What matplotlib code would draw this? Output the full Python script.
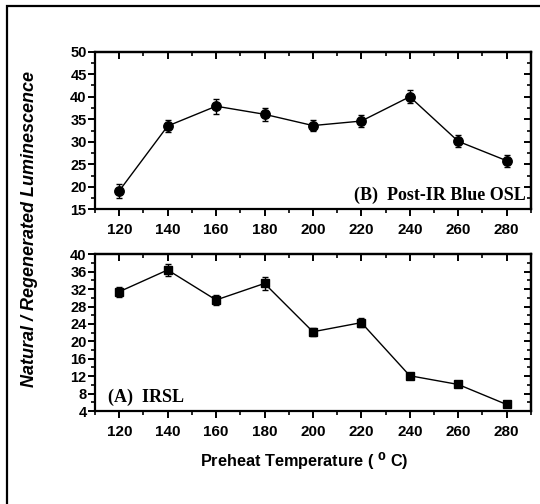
#!/usr/bin/env python3
"""Natural / regenerated luminescence ratio vs preheat temperature.

Two stacked panels: (B) post-IR blue OSL on top, (A) IRSL below.
"""
import matplotlib
matplotlib.use("Agg")
import matplotlib.pyplot as plt
from matplotlib.patches import Rectangle
from matplotlib.ticker import MultipleLocator

temps = [120, 140, 160, 180, 200, 220, 240, 260, 280]

osl_ratio = [19.1, 33.5, 37.9, 36.1, 33.6, 34.6, 40.0, 30.1, 25.8]
osl_err = [1.6, 1.3, 1.7, 1.4, 1.3, 1.3, 1.5, 1.3, 1.3]

irsl_ratio = [31.4, 36.4, 29.5, 33.3, 22.2, 24.3, 12.1, 10.1, 5.5]
irsl_err = [1.1, 1.4, 1.1, 1.4, 0.9, 1.0, 0.6, 0.6, 0.4]

SANS = "Liberation Sans"
SERIF = "Liberation Serif"

plt.rcParams.update({
    "font.family": SANS,
    "font.weight": "bold",
    "axes.linewidth": 1.6,
    "xtick.major.width": 1.4,
    "ytick.major.width": 1.4,
    "xtick.minor.width": 1.2,
    "ytick.minor.width": 1.2,
    "xtick.major.size": 5,
    "ytick.major.size": 5,
    "xtick.minor.size": 3,
    "ytick.minor.size": 3,
})


def style_axes(ax, ylim, ymaj, ymin):
    ax.set_xlim(110, 290)
    ax.set_ylim(*ylim)
    ax.xaxis.set_major_locator(MultipleLocator(20))
    ax.xaxis.set_minor_locator(MultipleLocator(10))
    ax.yaxis.set_major_locator(MultipleLocator(ymaj))
    ax.yaxis.set_minor_locator(MultipleLocator(ymin))
    ax.tick_params(which="both", direction="out", top=False, right=False)
    ax.tick_params(axis="x", labelsize=11, pad=5)
    ax.tick_params(axis="y", labelsize=10.5, pad=1)
    for lab in ax.get_xticklabels() + ax.get_yticklabels():
        lab.set_fontweight("bold")
    # mirrored ticks on top / right, pointing inward
    top = ax.secondary_xaxis("top")
    top.xaxis.set_major_locator(MultipleLocator(20))
    top.xaxis.set_minor_locator(MultipleLocator(10))
    top.tick_params(which="both", direction="in", labeltop=False)
    right = ax.secondary_yaxis("right")
    right.yaxis.set_major_locator(MultipleLocator(ymaj))
    right.yaxis.set_minor_locator(MultipleLocator(ymin))
    right.tick_params(which="both", direction="in", labelright=False)


fig = plt.figure(figsize=(5.4, 5.04), dpi=100)
fig.patch.set_facecolor("white")

axB = fig.add_axes([0.176, 0.5847, 0.807, 0.3127])
axA = fig.add_axes([0.176, 0.1845, 0.807, 0.311])

axB.errorbar(temps, osl_ratio, yerr=osl_err, color="black", lw=1.0,
             marker="o", ms=6.8, capsize=2.4, elinewidth=1.0, capthick=1.0)
style_axes(axB, (15, 50), 5, 2.5)
axB.text(0.988, 0.09, "(B)  Post-IR Blue OSL", transform=axB.transAxes,
         ha="right", va="center", family=SERIF, fontsize=13,
         fontweight="bold")

axA.errorbar(temps, irsl_ratio, yerr=irsl_err, color="black", lw=1.0,
             marker="s", ms=6.2, capsize=2.4, elinewidth=1.0, capthick=1.0)
style_axes(axA, (4, 40), 4, 2)
axA.text(0.03, 0.09, "(A)  IRSL", transform=axA.transAxes,
         ha="left", va="center", family=SERIF, fontsize=13,
         fontweight="bold")

fig.text(0.563, 0.085, "Preheat Temperature ( $^{\\mathbf{0}}$ C)",
         ha="center", va="center", fontsize=11.7, fontweight="bold")
fig.text(0.055, 0.545, "Natural / Regenerated Luminescence",
         rotation=90, ha="center", va="center", fontsize=13,
         fontweight="bold", style="italic")

# outer frame, only its left and top edges fall inside the image
fig.patches.append(Rectangle((7 / 540, -0.1), 1.2, 1 - 6 / 504 + 0.1,
                             transform=fig.transFigure, fill=False,
                             edgecolor="black", lw=1.6))

fig.savefig("out.png", dpi=100)
